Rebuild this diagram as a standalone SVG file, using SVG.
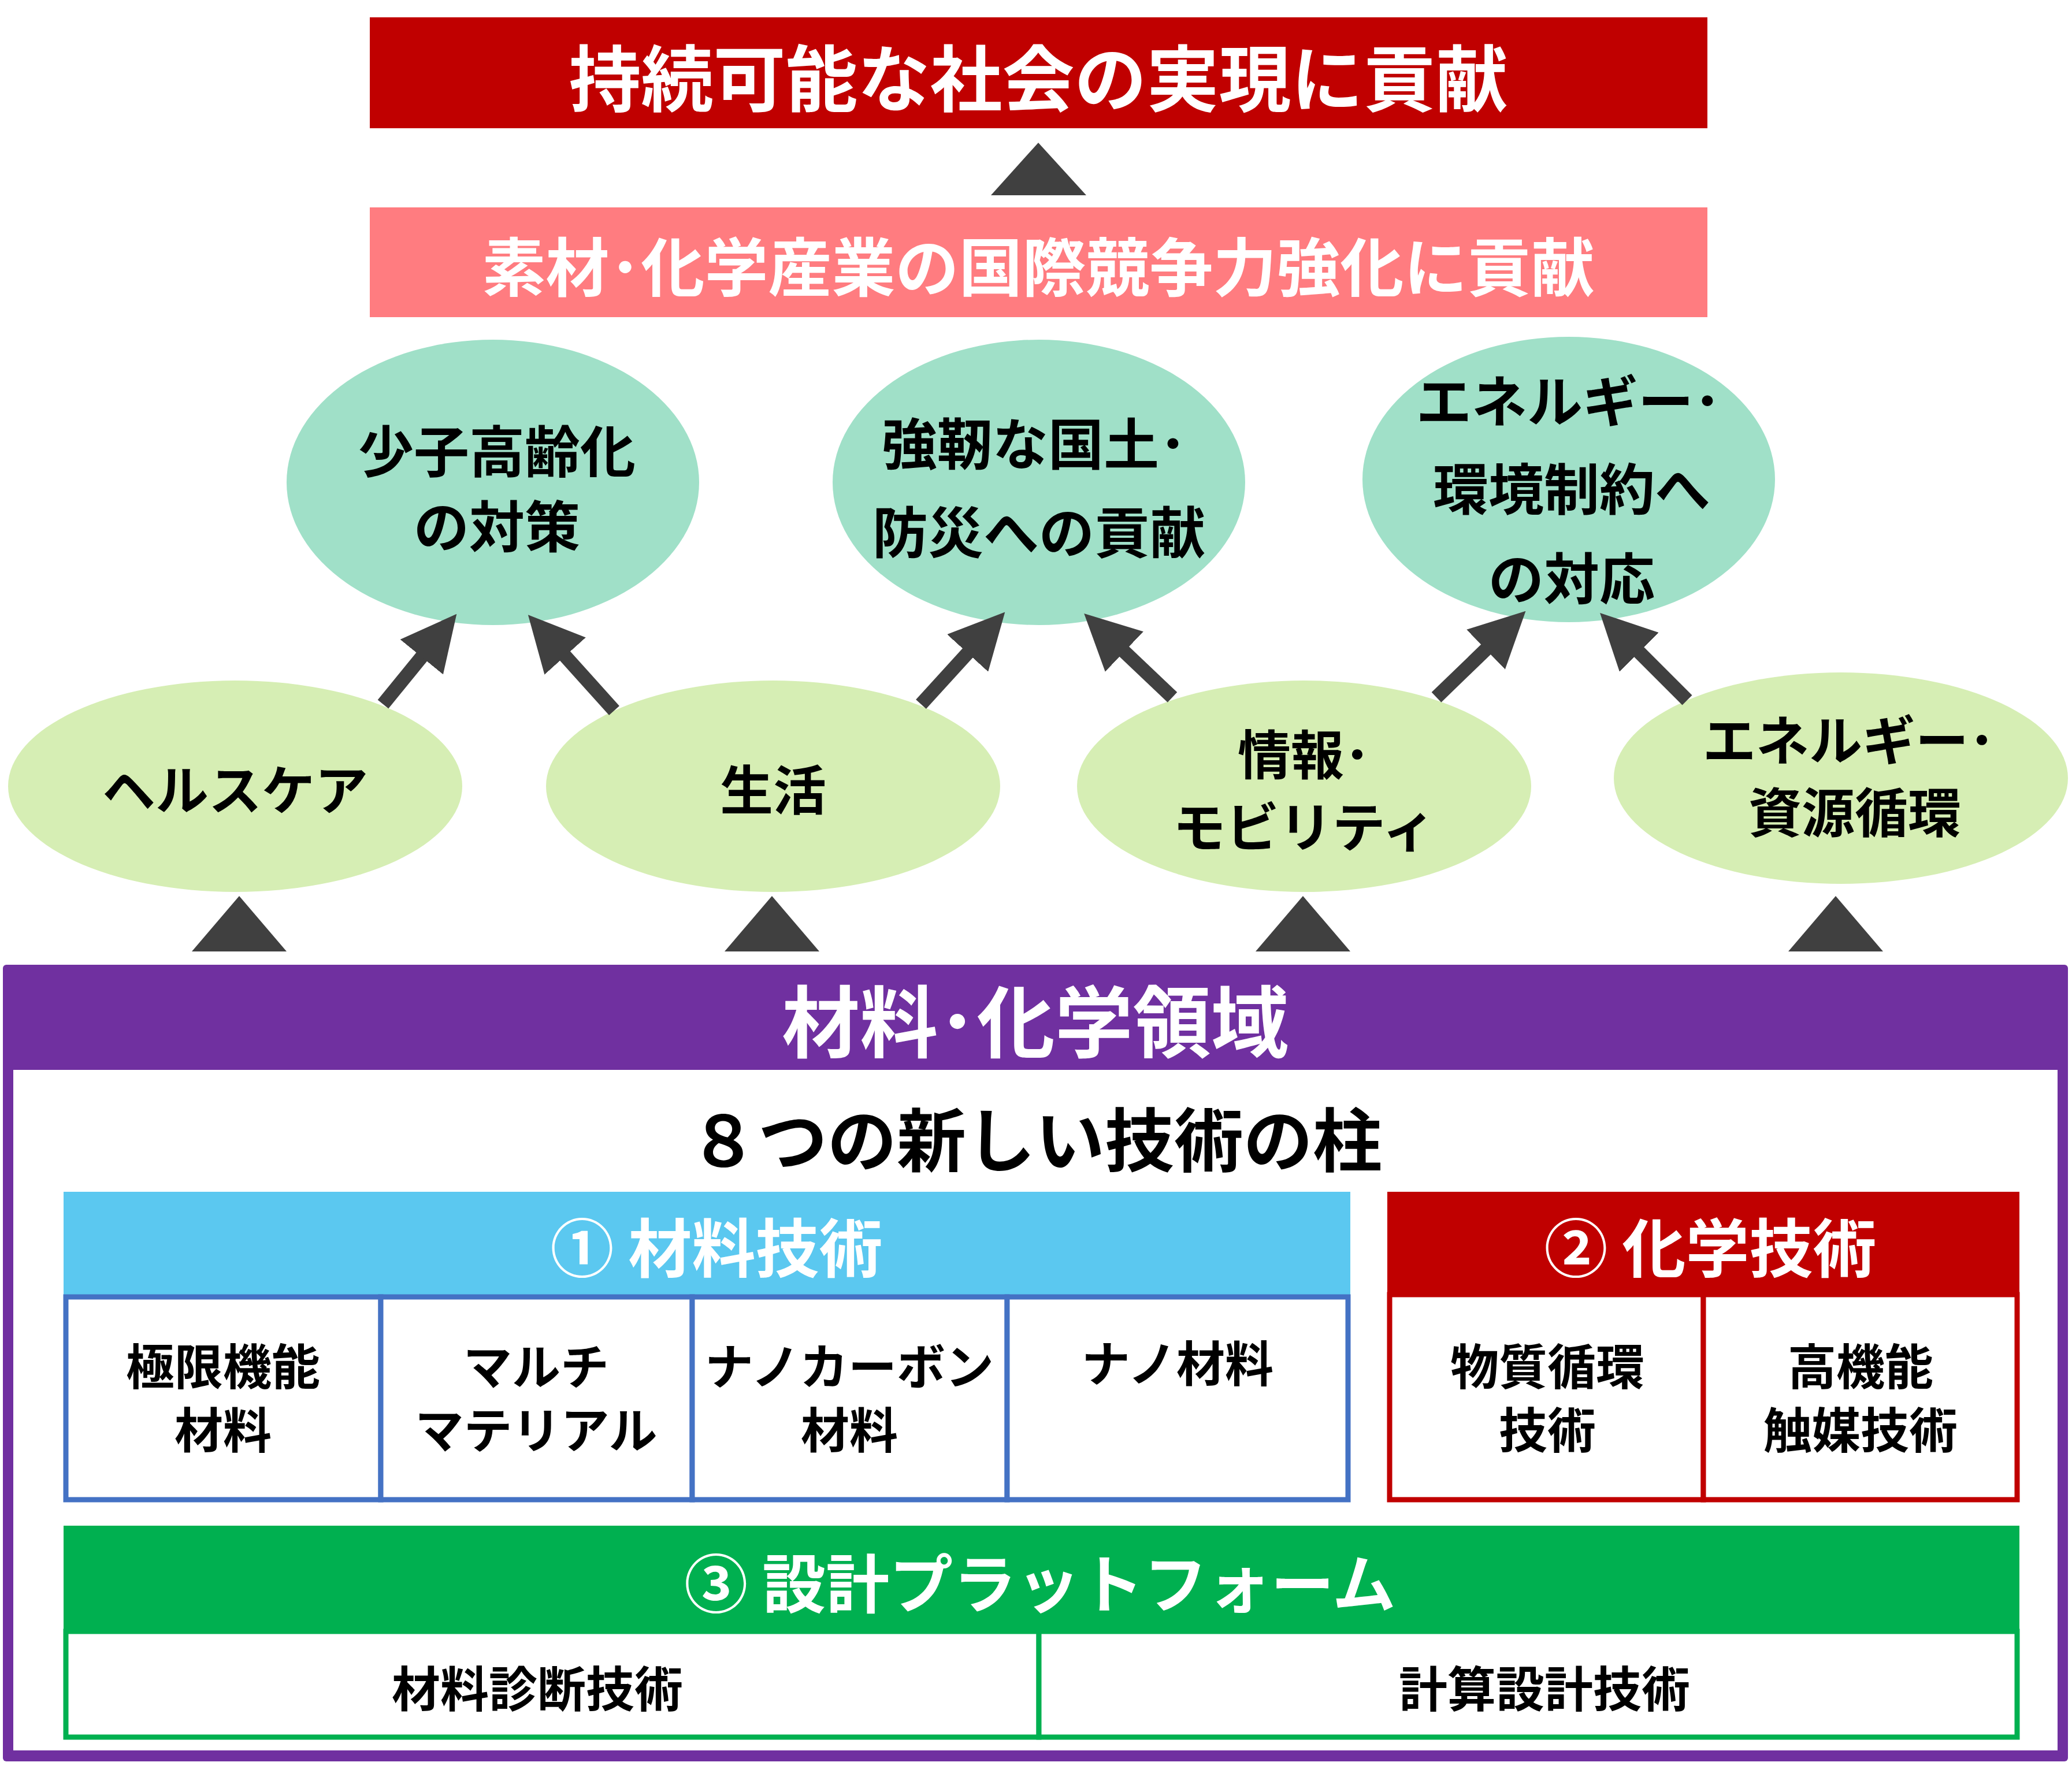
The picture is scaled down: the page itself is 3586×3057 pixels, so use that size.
<svg xmlns="http://www.w3.org/2000/svg" width="3586" height="3057" viewBox="0 0 3586 3057">
<style>
text{font-family:"Noto Sans CJK JP","Noto Sans",sans-serif;font-weight:bold;text-anchor:middle;dominant-baseline:central}
.w{fill:#fff}.k{fill:#000}
.up{fill:#a0e0c8}.lo{fill:#d6eeb4}
.tri{fill:#404040}
.cellb{fill:#fff;stroke:#4472c4;stroke-width:9}
.cellr{fill:#fff;stroke:#c00000;stroke-width:9}
.cellg{fill:#fff;stroke:#00b050;stroke-width:9}
.arr{stroke:#404040;stroke-width:24;fill:none;marker-end:url(#ah)}
</style>
<defs>
<marker id="ah" viewBox="0 0 10 10" refX="5" refY="5" markerWidth="4" markerHeight="4" orient="auto" markerUnits="strokeWidth"><path d="M0,0L10,5L0,10z" fill="#404040"/></marker>
</defs>
<rect width="3586" height="3057" fill="#fff"/>
<g id="goal"><rect x="640" y="30" width="2315" height="192" fill="#c00000"/><text class="w" x="1797" y="128" font-size="125">持続可能な社会の実現に貢献</text></g>
<polygon class="tri" points="1797,247 1715,338 1880,338"/>
<g id="industry"><rect x="640" y="359" width="2315" height="190" fill="#ff7c80"/><text class="w" x="1797" y="456" font-size="110">素材･化学産業の国際競争力強化に貢献</text></g>
<g id="u1"><ellipse class="up" cx="853" cy="835" rx="357" ry="247"/><text class="k" font-size="96" x="860" y="775">少子高齢化</text><text class="k" font-size="96" x="860" y="905">の対策</text></g>
<g id="u2"><ellipse class="up" cx="1798" cy="835" rx="357" ry="247"/><text class="k" font-size="96" x="1790" y="762">強靭な国土･</text><text class="k" font-size="96" x="1798" y="915">防災への貢献</text></g>
<g id="u3"><ellipse class="up" cx="2715" cy="830" rx="357" ry="247"/><text class="k" font-size="96" x="2715" y="688">エネルギー･</text><text class="k" font-size="96" x="2720" y="840">環境制約へ</text><text class="k" font-size="96" x="2720" y="995">の対応</text></g>
<g id="l1"><ellipse class="lo" cx="407" cy="1361" rx="393" ry="183"/><text class="k" font-size="92" x="407" y="1361">ヘルスケア</text></g>
<g id="l2"><ellipse class="lo" cx="1338" cy="1361" rx="393" ry="183"/><text class="k" font-size="92" x="1338" y="1361">生活</text></g>
<g id="l3"><ellipse class="lo" cx="2257" cy="1361" rx="393" ry="183"/><text class="k" font-size="92" x="2257" y="1300">情報･</text><text class="k" font-size="92" x="2257" y="1425">モビリティ</text></g>
<g id="l4"><ellipse class="lo" cx="3186" cy="1347" rx="393" ry="183"/><text class="k" font-size="92" x="3200" y="1275">エネルギー･</text><text class="k" font-size="92" x="3210" y="1400">資源循環</text></g>
<g id="connectors">
<line class="arr" x1="663" y1="1219" x2="760" y2="1100"/>
<line class="arr" x1="1063" y1="1230" x2="946" y2="1100"/>
<line class="arr" x1="1594" y1="1219" x2="1707" y2="1095"/>
<line class="arr" x1="2029" y1="1207" x2="1911" y2="1095"/>
<line class="arr" x1="2486" y1="1207" x2="2606" y2="1091"/>
<line class="arr" x1="2920" y1="1212" x2="2803" y2="1095"/>
<polygon class="tri" points="414,1551 332,1647 496,1647"/>
<polygon class="tri" points="1336,1551 1254,1647 1418,1647"/>
<polygon class="tri" points="2255,1551 2173,1647 2337,1647"/>
<polygon class="tri" points="3177,1551 3095,1647 3259,1647"/>
</g>
<g id="domain">
<rect x="5" y="1670" width="3574" height="1379" fill="#7030a0" rx="6"/>
<rect x="23" y="1852" width="3538" height="1178" fill="#fff"/>
<text class="w" x="1792" y="1761" font-size="135">材料･化学領域</text>
<text class="k" x="1792" y="1967" font-size="120">８つの新しい技術の柱</text>
</g>
<g id="material">
<rect x="110" y="2063" width="2227" height="178" fill="#5bc8f0"/>
<text class="w" x="1240" y="2154" font-size="110">① 材料技術</text>
<rect class="cellb" x="114" y="2245" width="545" height="351"/>
<rect class="cellb" x="659" y="2245" width="539" height="351"/>
<rect class="cellb" x="1198" y="2245" width="545" height="351"/>
<rect class="cellb" x="1743" y="2245" width="590" height="351"/>
<g class="k" font-size="84">
<text x="386" y="2360">極限機能</text><text x="386" y="2470">材料</text>
<text x="928" y="2360">マルチ</text><text x="928" y="2470">マテリアル</text>
<text x="1470" y="2360">ナノカーボン</text><text x="1470" y="2470">材料</text>
<text x="2038" y="2355">ナノ材料</text>
</g>
</g>
<g id="chemical">
<rect x="2401" y="2063" width="1094" height="178" fill="#c00000"/>
<text class="w" x="2960" y="2154" font-size="110">② 化学技術</text>
<rect class="cellr" x="2405" y="2241" width="543" height="355"/>
<rect class="cellr" x="2948" y="2241" width="543" height="355"/>
<g class="k" font-size="84">
<text x="2678" y="2360">物質循環</text><text x="2678" y="2470">技術</text>
<text x="3220" y="2360">高機能</text><text x="3220" y="2470">触媒技術</text>
</g>
</g>
<g id="platform">
<rect x="110" y="2641" width="3385" height="183" fill="#00b050"/>
<text class="w" x="1800" y="2735" font-size="110">③ 設計プラットフォーム</text>
<rect class="cellg" x="114" y="2824" width="1684" height="183"/>
<rect class="cellg" x="1798" y="2824" width="1693" height="183"/>
<text class="k" x="930" y="2918" font-size="84">材料診断技術</text>
<text class="k" x="2673" y="2918" font-size="84">計算設計技術</text>
</g>
</svg>
